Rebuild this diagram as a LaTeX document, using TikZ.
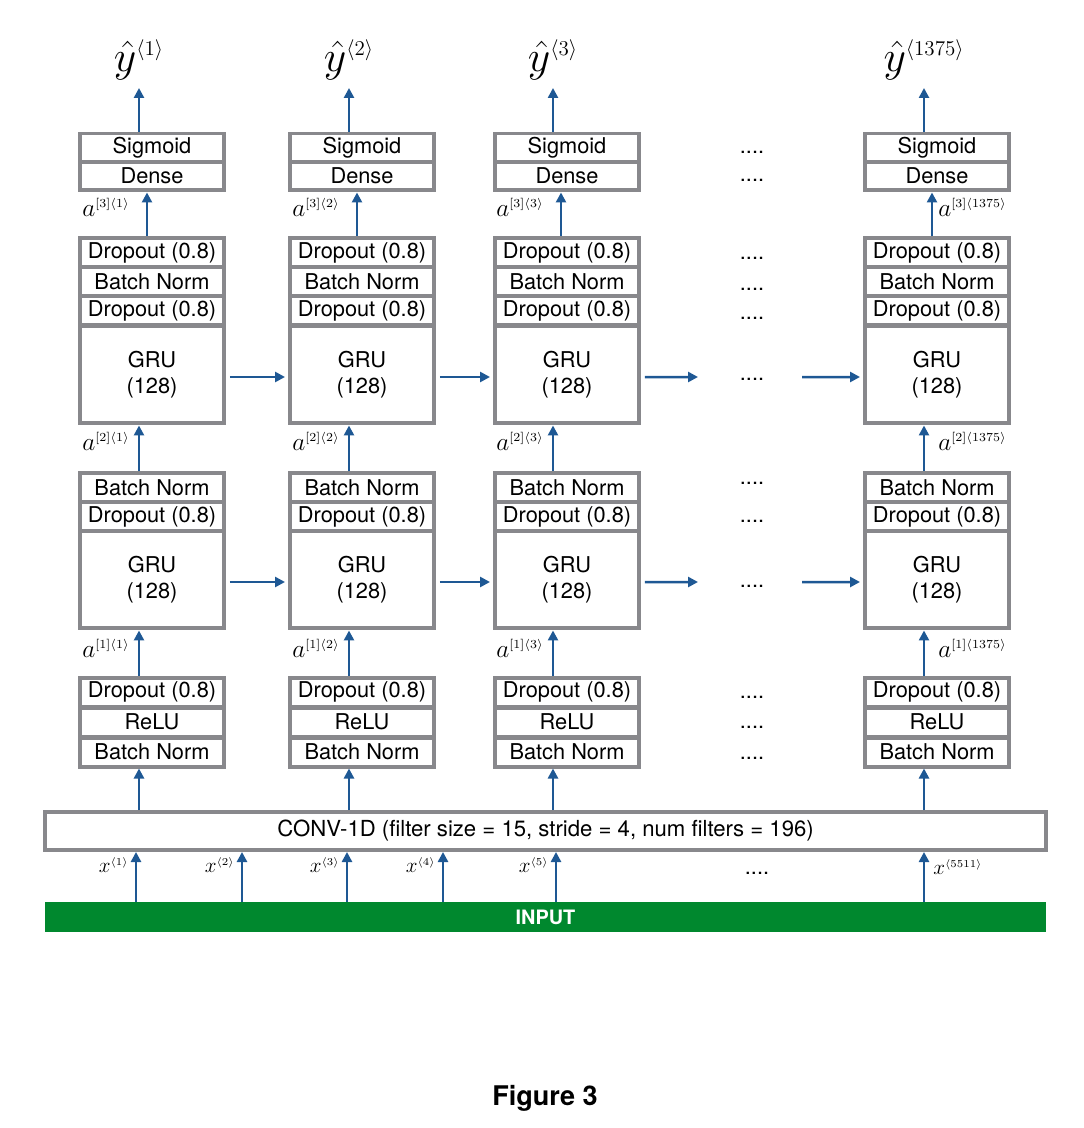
\documentclass[tikz,border=0pt]{standalone}
\usepackage{fontspec}
\setmainfont{TeX Gyre Heros}
\usetikzlibrary{arrows.meta}
\definecolor{boxgray}{RGB}{136,136,140}
\definecolor{arrblue}{RGB}{30,88,148}
\definecolor{inpgreen}{RGB}{0,136,46}

\begin{document}
\begin{tikzpicture}[x=0.02cm, y=-0.02cm,
    layer/.style={draw=boxgray, line width=0.08cm, fill=white, minimum width=2.88cm, inner sep=0pt, font=\fontsize{12.4}{15}\selectfont},
    cell/.style={layer, minimum height=0.58cm},
    gru/.style={layer, minimum height=1.96cm, align=center},
    arr/.style={-{Triangle[length=0.2cm,width=0.2cm]}, draw=arrblue, line width=0.05cm},
    lbl/.style={inner sep=0pt, font=\fontsize{14}{16}\selectfont},
    xlbl/.style={inner sep=0pt, font=\fontsize{13}{15}\selectfont},
    etc/.style={inner sep=0pt, font=\fontsize{12.4}{15}\selectfont}]
        \useasboundingbox (0,0) rectangle (1084,1128);
        % Conv and input layers
        \node[layer, minimum width=20.02cm, minimum height=0.76cm, font=\fontsize{12.6}{15}\selectfont] (conv) at (545.5,831) {CONV-1D (filter size = 15, stride = 4, num filters = 196)};
        \node[fill=inpgreen, minimum width=20.02cm, minimum height=0.6cm, inner sep=0pt, text=white, font=\bfseries\fontsize{11.3}{13}\selectfont] (inp) at (545.5,917) {INPUT};
        % Columns of layers
        \foreach \c/\cx/\ax/\bx/\t/\sd/\lo in {1/152/139/147/1/east/-9, 2/362/349/357/2/east/-9, 3/567/553/561/3/east/-9, 4/937/924/932/1375/west/14} {
            \node[cell] (sig\c) at (\cx,148) {Sigmoid};
            \node[cell] (den\c) at (\cx,176) {Dense};
            \node[cell] (dra\c) at (\cx,252.5) {Dropout (0.8)};
            \node[cell] (bna\c) at (\cx,281.5) {Batch Norm};
            \node[cell] (drb\c) at (\cx,310.5) {Dropout (0.8)};
            \node[gru] (grua\c) at (\cx,374.5) {GRU\\(128)};
            \node[cell] (bnb\c) at (\cx,487.5) {Batch Norm};
            \node[cell] (drc\c) at (\cx,516.5) {Dropout (0.8)};
            \node[gru] (grub\c) at (\cx,579.5) {GRU\\(128)};
            \node[cell] (drd\c) at (\cx,692) {Dropout (0.8)};
            \node[cell] (relu\c) at (\cx,722) {ReLU};
            \node[cell] (bnc\c) at (\cx,752) {Batch Norm};
            % outputs and activations
            \node[font=\fontsize{23}{26}\selectfont, inner sep=0pt] (yh\c) at (\ax,60) {${\hat{y}}^{\scriptscriptstyle\langle \t\rangle}$};
            \coordinate (yt\c) at (\ax,88);
            \draw[arr] (sig\c.north -| \ax,0) -- (yt\c);
            \draw[arr] (dra\c.north -| \bx,0) -- (den\c.south -| \bx,0);
            \node[lbl, anchor=\sd] (a3\c) at (\ax+\lo,207) {$a^{\scriptscriptstyle[3]\langle \t\rangle}$};
            \draw[arr] (bnb\c.north -| \ax,0) -- (grua\c.south -| \ax,0);
            \node[lbl, anchor=\sd] (a2\c) at (\ax+\lo,441) {$a^{\scriptscriptstyle[2]\langle \t\rangle}$};
            \draw[arr] (drd\c.north -| \ax,0) -- (grub\c.south -| \ax,0);
            \node[lbl, anchor=\sd] (a1\c) at (\ax+\lo,648) {$a^{\scriptscriptstyle[1]\langle \t\rangle}$};
            \draw[arr] (conv.north -| \ax,0) -- (bnc\c.south -| \ax,0);
        }
        % Recurrent connections
        \coordinate (ea) at (698,377);
        \coordinate (sa) at (802,377);
        \coordinate (eb) at (698,582);
        \coordinate (sb) at (802,582);
        \foreach \r in {a,b} {
            \draw[arr, shorten <=0.08cm, shorten >=0.06cm] ([yshift=-0.05cm]gru\r1.east) -- ([yshift=-0.05cm]gru\r2.west);
            \draw[arr, shorten <=0.08cm, shorten >=0.06cm] ([yshift=-0.05cm]gru\r2.east) -- ([yshift=-0.05cm]gru\r3.west);
            \draw[arr, shorten <=0.08cm] ([yshift=-0.05cm]gru\r3.east) -- (e\r);
            \draw[arr, shorten >=0.06cm] (s\r) -- ([yshift=-0.05cm]gru\r4.west);
        }
        % Dots between columns
        \foreach \dy in {152,180,258,289,318,379,483,521,586,697,727,758} {
            \node[etc] (d\dy) at (752,\dy) {....};
        }
        \node[etc] (dx) at (757,873) {....};
        % Input frames
        \foreach \i/\xa in {1/136,2/242,3/347,4/443,5/556} {
            \draw[arr] (inp.north -| \xa,0) -- (conv.south -| \xa,0);
            \node[xlbl, anchor=east] (x\i) at (\xa-7,865) {$x^{\scriptscriptstyle\langle \i\rangle}$};
        }
        \draw[arr] (inp.north -| 924,0) -- (conv.south -| 924,0);
        \node[xlbl, anchor=west] (x5511) at (933,867) {$x^{\scriptscriptstyle\langle 5511\rangle}$};
        % Caption
        \node[font=\bfseries\fontsize{15.4}{18}\selectfont] (fig) at (545,1098) {Figure 3};
    \end{tikzpicture}
\end{document}
